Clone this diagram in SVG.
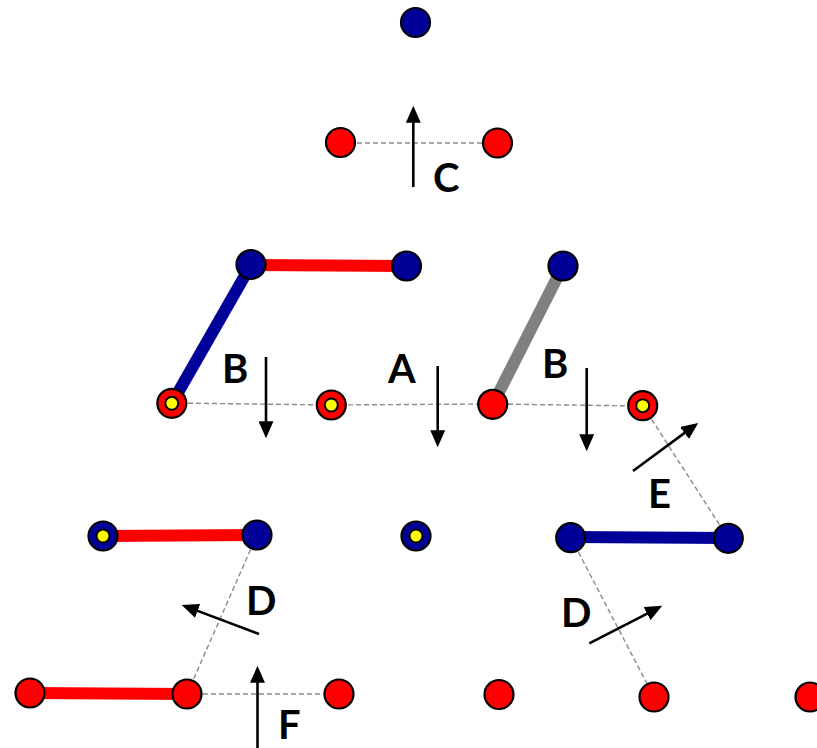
<svg xmlns="http://www.w3.org/2000/svg" width="817" height="748" viewBox="0 0 817 748">
<style>
.bar{stroke-width:12;stroke-linecap:butt;fill:none}
.dash{stroke:#8a8a8a;stroke-width:1.4;stroke-dasharray:5,3;fill:none}
.nb{fill:#000099;stroke:#000;stroke-width:2.2}
.nr{fill:#ff0000;stroke:#000;stroke-width:2.2}
.ny{fill:#ffff00;stroke:#000;stroke-width:2}
.arr{stroke:#000;stroke-width:2.6;fill:none;marker-end:url(#ah)}
.lbl{font-family:Lato,"Open Sans",sans-serif;font-weight:700;font-size:40px;fill:#000}
</style>
<defs>
<marker id="ah" markerUnits="userSpaceOnUse" markerWidth="17" markerHeight="15" refX="12" refY="7" orient="auto" viewBox="0 0 16 14">
<path d="M0,0 L16,7 L0,14 z" fill="#000"/>
</marker>
</defs>
<g id="connectors">
<line class="bar" x1="251" y1="265" x2="406" y2="266" stroke="#ff0000"/>
<line class="bar" x1="251" y1="265" x2="172" y2="403" stroke="#000099"/>
<line class="bar" x1="563" y1="266" x2="493" y2="404" stroke="#808080"/>
<line class="bar" x1="103" y1="536" x2="257" y2="535" stroke="#ff0000"/>
<line class="bar" x1="571" y1="537" x2="728" y2="538" stroke="#000099"/>
<line class="bar" x1="30" y1="693" x2="187" y2="694" stroke="#ff0000"/>
<line class="dash" x1="341" y1="143" x2="497" y2="143"/>
<path class="dash" d="M172,403 L331,405 L493,404 L643,406"/>
<line class="dash" x1="643" y1="406" x2="728" y2="538"/>
<line class="dash" x1="571" y1="538" x2="654" y2="697"/>
<line class="dash" x1="257" y1="535" x2="187" y2="694"/>
<line class="dash" x1="187" y1="694" x2="339" y2="694"/>
</g>
<g id="n1"><circle class="nb" cx="415.5" cy="22.5" r="14.5"/></g>
<g id="n2"><circle class="nr" cx="340.5" cy="142.5" r="14.5"/></g>
<g id="n3"><circle class="nr" cx="497.5" cy="143" r="14.5"/></g>
<g id="n4"><circle class="nb" cx="251" cy="264.5" r="14.5"/></g>
<g id="n5"><circle class="nb" cx="406.5" cy="266" r="14.5"/></g>
<g id="n6"><circle class="nb" cx="563" cy="266" r="14.5"/></g>
<g id="n7"><circle class="nr" cx="171.8" cy="403.3" r="14.5"/><circle class="ny" cx="171.8" cy="403.3" r="6.5"/></g>
<g id="n8"><circle class="nr" cx="331.3" cy="405" r="14.5"/><circle class="ny" cx="331.3" cy="405" r="6.5"/></g>
<g id="n9"><circle class="nr" cx="492.7" cy="404.3" r="14.5"/></g>
<g id="n10"><circle class="nr" cx="642.7" cy="405.7" r="14.5"/><circle class="ny" cx="642.7" cy="405.7" r="6.5"/></g>
<g id="n11"><circle class="nb" cx="103" cy="536" r="14.5"/><circle class="ny" cx="103" cy="536" r="6.5"/></g>
<g id="n12"><circle class="nb" cx="257" cy="535" r="14.5"/></g>
<g id="n13"><circle class="nb" cx="416" cy="536" r="14.5"/><circle class="ny" cx="416" cy="536" r="6.5"/></g>
<g id="n14"><circle class="nb" cx="570.7" cy="537.7" r="14.5"/></g>
<g id="n15"><circle class="nb" cx="728.3" cy="538.3" r="14.5"/></g>
<g id="n16"><circle class="nr" cx="30" cy="693" r="14.5"/></g>
<g id="n17"><circle class="nr" cx="187" cy="694" r="14.5"/></g>
<g id="n18"><circle class="nr" cx="339" cy="694" r="14.5"/></g>
<g id="n19"><circle class="nr" cx="499" cy="694.5" r="14.5"/></g>
<g id="n20"><circle class="nr" cx="654" cy="697" r="14.5"/></g>
<g id="n21"><circle class="nr" cx="810" cy="697" r="14.5"/></g>
<g id="arrows">
<line class="arr" x1="413.3" y1="187" x2="413.3" y2="110"/>
<line class="arr" x1="266" y1="357" x2="266" y2="434"/>
<line class="arr" x1="437.7" y1="366" x2="437.7" y2="443"/>
<line class="arr" x1="586.7" y1="368" x2="586.7" y2="447"/>
<line class="arr" x1="633" y1="471" x2="694.8" y2="425.4"/>
<line class="arr" x1="259" y1="634" x2="185.7" y2="606.4"/>
<line class="arr" x1="589.3" y1="643.3" x2="658.4" y2="607.8"/>
<line class="arr" x1="257.5" y1="748" x2="257.5" y2="670"/>
</g>
<g id="labels">
<text class="lbl" x="433" y="192">C</text>
<text class="lbl" x="222" y="383">B</text>
<text class="lbl" x="388" y="383">A</text>
<text class="lbl" x="542" y="378">B</text>
<text class="lbl" x="648" y="508">E</text>
<text class="lbl" x="246" y="615">D</text>
<text class="lbl" x="561" y="627">D</text>
<text class="lbl" x="278" y="739">F</text>
</g>
</svg>
